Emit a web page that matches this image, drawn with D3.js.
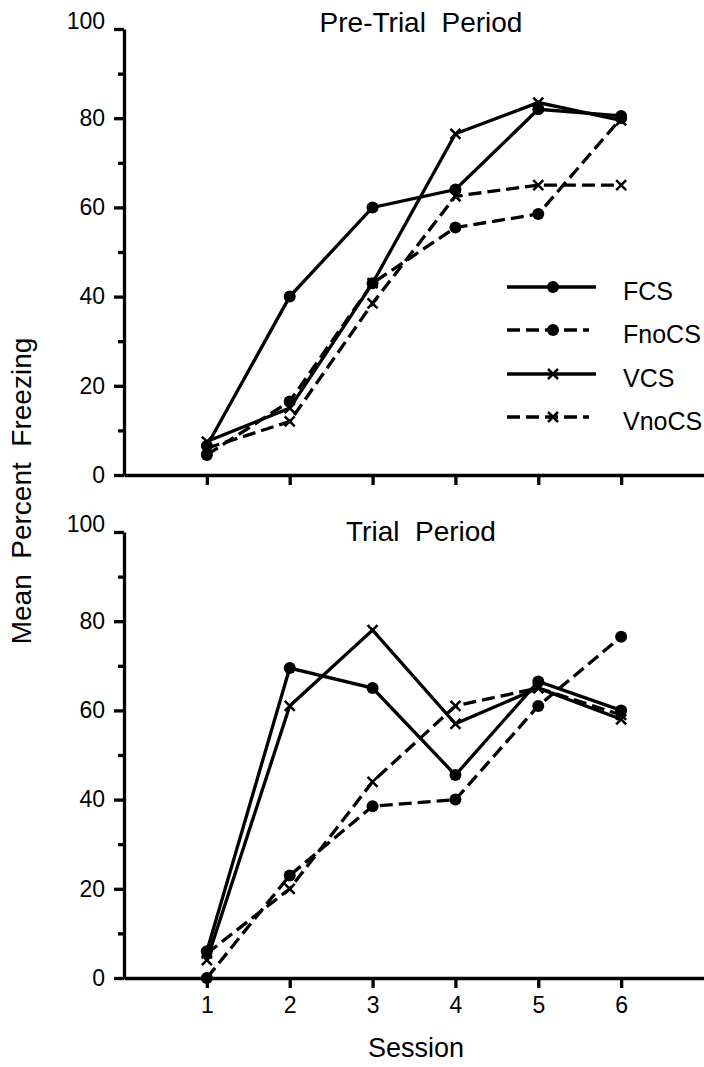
<!DOCTYPE html>
<html>
<head>
<meta charset="utf-8">
<script src="https://cdn.jsdelivr.net/npm/d3@7"></script>
<style>
  body { margin: 0; background: #fff; }
  text { font-family: "Liberation Sans", Arial, Helvetica, sans-serif; fill: #000; white-space: pre; }
</style>
</head>
<body>
<div id="chart"></div>
<script>
// sessions on the x axis
const sessions = [1, 2, 3, 4, 5, 6];
const yMajor = [0, 20, 40, 60, 80, 100];
const yMinor = [10, 30, 50, 70, 90];

// group names (legend order)
const groups = ["FCS", "FnoCS", "VCS", "VnoCS"];

// Pre-Trial Period means
const preFCS = [6.5, 40, 60, 64, 82, 80.5];
const preFnoCS = [4.5, 16.5, 43, 55.5, 58.5, 80];
const preVCS = [7.5, 15, 43, 76.5, 83.5, 79.5];
const preVnoCS = [6, 12, 38.5, 62.5, 65, 65];

// Trial Period means
const trialFCS = [6, 69.5, 65, 45.5, 66.5, 60];
const trialFnoCS = [0, 23, 38.5, 40, 61, 76.5];
const trialVCS = [4, 61, 78, 57, 65, 58];
const trialVnoCS = [5.5, 20, 44, 61, 65, 59];

const width = 704, height = 1067;

// line style / marker per group
const dashed = { FCS: false, FnoCS: true, VCS: false, VnoCS: true };
const marker = { FCS: "dot", FnoCS: "dot", VCS: "x", VnoCS: "x" };
const dash = "13,6";

let svg = d3.select("#chart").append("svg")
    .attr("width", width)
    .attr("height", height);

let xScale = d3.scaleLinear().domain([0, 7]).range([124, 704]);

function drawMarker(g, type, cx, cy) {
    if (type == "dot") {
        g.append("circle")
            .attr("cx", cx).attr("cy", cy).attr("r", 6)
            .attr("fill", "black");
    } else {
        let s = 5;
        g.append("path")
            .attr("d", `M${cx - s},${cy - s}L${cx + s},${cy + s}M${cx - s},${cy + s}L${cx + s},${cy - s}`)
            .attr("stroke", "black")
            .attr("stroke-width", 2.5)
            .attr("fill", "none");
    }
}

function drawPanel(top, bottom, title, titleY, series, showLabels) {
    let yScale = d3.scaleLinear().domain([0, 100]).range([bottom, top]);
    let g = svg.append("g");

    // y axis, major then minor ticks
    let yAxis = d3.axisLeft(yScale).tickValues(yMajor).tickSize(10).tickSizeOuter(0).tickPadding(9);
    let ya = g.append("g").attr("transform", `translate(${xScale(0)},0)`).call(yAxis);
    ya.select(".domain").attr("stroke-width", 3.3);
    ya.selectAll(".tick line").attr("stroke-width", 3.3);
    ya.selectAll(".tick text").style("font-size", "23px")
        .attr("y", d => d == 100 ? -8 : 0);

    let yMin = d3.axisLeft(yScale).tickValues(yMinor).tickSize(6).tickFormat("");
    let ym = g.append("g").attr("transform", `translate(${xScale(0)},0)`).call(yMin);
    ym.select(".domain").remove();
    ym.selectAll(".tick line").attr("stroke-width", 3.3);

    // x axis
    let xAxis = d3.axisBottom(xScale).tickValues(sessions).tickSize(10).tickSizeOuter(0)
        .tickPadding(9).tickFormat(showLabels ? d3.format("d") : "");
    let xa = g.append("g").attr("transform", `translate(0,${bottom})`).call(xAxis);
    xa.select(".domain").attr("stroke-width", 3.3);
    xa.selectAll(".tick line").attr("stroke-width", 3.3);
    xa.selectAll(".tick text").style("font-size", "23px");

    // title
    g.append("text")
        .attr("x", 421)
        .attr("y", titleY)
        .attr("text-anchor", "middle")
        .style("font-size", "28px")
        .text(title);

    let line = d3.line()
        .x((d, i) => xScale(sessions[i]))
        .y(d => yScale(d));

    groups.forEach(name => {
        let vals = series[name];
        g.append("path")
            .datum(vals)
            .attr("d", line)
            .attr("fill", "none")
            .attr("stroke", "black")
            .attr("stroke-width", 3.3)
            .attr("stroke-dasharray", dashed[name] ? dash : null);
        vals.forEach((v, i) => drawMarker(g, marker[name], xScale(sessions[i]), yScale(v)));
    });
}

drawPanel(29, 475, "Pre-Trial  Period", 32,
    { FCS: preFCS, FnoCS: preFnoCS, VCS: preVCS, VnoCS: preVnoCS }, false);
drawPanel(532, 978, "Trial  Period", 541,
    { FCS: trialFCS, FnoCS: trialFnoCS, VCS: trialVCS, VnoCS: trialVnoCS }, true);

// legend
let legendY = [287, 330, 374, 417];
let legend = svg.append("g");
groups.forEach((name, i) => {
    let y = legendY[i];
    legend.append("line")
        .attr("x1", 507).attr("x2", dashed[name] ? 589 : 596)
        .attr("y1", y).attr("y2", y)
        .attr("stroke", "black")
        .attr("stroke-width", 3.3)
        .attr("stroke-dasharray", dashed[name] ? dash : null);
    drawMarker(legend, marker[name], 553, y);
    legend.append("text")
        .attr("x", 623).attr("y", y + 13)
        .style("font-size", "25px")
        .text(name);
});

// axis titles
svg.append("text")
    .attr("x", 416).attr("y", 1057)
    .attr("text-anchor", "middle")
    .style("font-size", "27px")
    .text("Session");

svg.append("text")
    .attr("transform", "translate(31,491) rotate(-90)")
    .attr("text-anchor", "middle")
    .style("font-size", "28px")
    .text("Mean  Percent  Freezing");
</script>
</body>
</html>
